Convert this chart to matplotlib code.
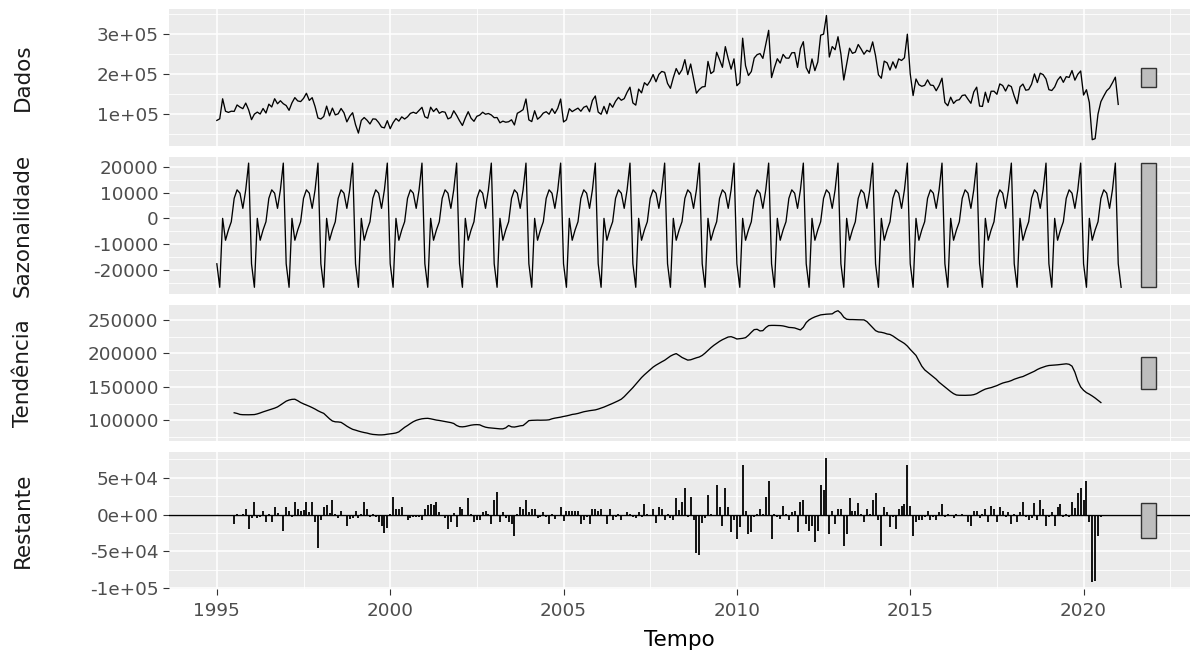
import numpy as np
import matplotlib.pyplot as plt

# monthly series, Jan 1995 to Feb 2021 (values in thousands)
inicio = 1995
n_meses = 314

sazonal = [-17.65, -26.8, 0.0, -8.5, -4.5, -1.3, 7.8, 11.1, 9.8, 3.9, 11.1, 21.5]

# trend and remainder exist from Jul 1995 to Jul 2020
tendencia = [
    111.5, 110.5, 109.0, 108.6, 108.5, 108.5,
    108.6, 108.8, 109.8, 111.2, 112.8, 114.2, 115.6, 117.0, 118.4, 120.2, 123.0, 126.0,
    128.8, 130.5, 131.5, 131.7, 129.5, 126.8, 124.8, 123.0, 121.2, 119.2, 117.0, 114.5,
    112.4, 110.6, 106.5, 102.5, 99.2, 98.0, 97.8, 97.2, 94.5, 91.5, 89.0, 86.8,
    85.6, 84.2, 83.0, 82.0, 81.2, 80.0, 79.2, 78.8, 78.5, 78.5, 78.8, 79.5,
    80.0, 80.6, 81.4, 83.0, 86.5, 89.8, 92.5, 95.5, 98.2, 100.2, 101.5, 102.5,
    103.0, 103.2, 102.5, 101.5, 100.6, 100.0, 99.2, 98.4, 97.5, 96.8, 95.5, 92.5,
    90.8, 90.5, 91.0, 92.0, 93.0, 93.6, 93.8, 93.5, 91.5, 90.0, 89.2, 88.8,
    88.5, 88.0, 87.5, 87.5, 89.0, 92.5, 90.5, 90.2, 91.0, 92.0, 92.5, 96.0,
    99.8, 100.2, 100.4, 100.5, 100.4, 100.5, 100.6, 101.0, 102.5, 103.5, 104.2, 105.0,
    106.0, 106.8, 107.8, 109.0, 109.6, 110.5, 111.8, 113.0, 113.8, 114.6, 115.2, 115.8,
    117.0, 118.5, 120.0, 121.8, 123.5, 125.5, 127.5, 129.5, 131.8, 135.5, 140.0, 144.5,
    149.0, 154.0, 159.0, 164.0, 168.2, 172.0, 176.0, 179.6, 182.5, 185.0, 187.5, 189.8,
    193.0, 196.0, 198.2, 199.7, 197.0, 194.0, 192.0, 190.0, 190.5, 192.0, 193.5, 194.7,
    197.0, 200.5, 204.5, 208.5, 212.0, 215.0, 218.0, 220.5, 222.5, 224.5, 225.0, 223.5,
    221.5, 222.0, 222.5, 223.5, 227.0, 231.5, 235.5, 236.0, 233.5, 234.0, 238.5, 241.5,
    241.8, 241.8, 241.6, 241.5, 241.0, 240.0, 238.8, 238.5, 238.0, 236.5, 235.0, 239.0,
    246.0, 250.0, 252.5, 254.5, 256.0, 257.5, 258.0, 258.5, 258.8, 259.0, 262.0, 263.7,
    260.0, 254.0, 251.0, 250.5, 250.5, 250.3, 250.2, 250.1, 250.0, 247.5, 243.0, 238.5,
    234.0, 232.0, 231.5, 230.5, 229.0, 228.3, 226.0, 223.0, 220.0, 217.5, 214.8, 211.0,
    206.0, 201.5, 197.0, 189.0, 181.0, 175.5, 172.0, 168.5, 165.0, 161.5, 157.0, 153.5,
    150.0, 146.5, 143.0, 140.0, 138.0, 137.6, 137.5, 137.5, 137.6, 137.8, 138.5, 140.0,
    142.5, 144.8, 146.8, 148.0, 149.0, 150.5, 152.0, 154.0, 155.8, 157.0, 158.0, 159.5,
    161.5, 163.0, 164.4, 165.5, 167.5, 169.5, 171.5, 173.5, 176.0, 178.0, 179.5, 181.0,
    182.0, 182.3, 182.5, 183.0, 183.5, 184.0, 184.5, 183.8, 181.0, 172.0, 159.0, 150.0,
    145.0, 141.5, 139.2, 136.5, 133.5, 130.0, 126.7,
]

restante = [
    -12.7, 1.0, -1.5, 0.8, 7.7, -19.5,
    -5.0, 17.7, -5.0, -2.7, 5.5, -10.5, 1.2, -10.5, 10.0, 1.5, -1.0, -21.8,
    10.0, 5.5, -3.6, 17.7, 7.7, 5.5, 6.4, 17.7, 3.0, 17.7, -9.5, -45.9,
    -7.3, 10.0, 13.2, 1.5, 20.0, 1.0, -5.0, 5.5, -1.2, -15.0, -5.9, -5.0,
    5.5, -5.0, 1.0, 17.7, 7.7, -3.6, 0.8, -2.7, -9.5, -15.0, -24.5, -17.7,
    1.0, 24.5, 7.3, 7.7, 10.9, -1.0, -7.3, -5.0, -3.6, -2.7, -3.6, -7.3,
    7.7, 13.2, 14.5, 13.2, 17.7, 3.2, -1.0, -5.0, -19.5, -9.5, 1.5, -17.3,
    10.0, 7.7, -1.0, 22.3, 1.0, -10.5, -7.3, -7.3, 3.2, 5.5, 1.0, -12.7,
    20.0, 30.0, -9.5, 3.2, -5.0, -10.5, -12.7, -28.6, 1.0, 10.0, 7.3, 20.0,
    3.2, 7.7, 7.7, -5.0, -2.7, 3.2, -2.7, -12.7, 1.0, -5.9, -1.0, 10.9,
    -8.2, 5.5, 5.5, 5.5, 5.5, 5.5, -12.7, -7.3, -3.6, -12.7, 7.7, 7.7,
    5.5, 7.7, -1.0, -12.7, 7.7, -7.3, -3.6, 1.0, -7.3, -1.0, 3.2, 1.0,
    -3.6, -5.0, 3.2, -2.7, 14.5, 1.0, -1.0, 7.7, -11.8, 10.0, 7.7, -7.3,
    1.0, -5.0, -7.3, 22.3, 6.4, 17.7, 35.9, -2.7, 24.5, -7.3, -52.7, -55.0,
    -11.8, -5.0, 26.8, 1.0, -1.0, 40.5, 10.0, -15.0, 35.9, 10.0, -24.1, -7.3,
    -33.2, -17.3, 66.8, 5.5, -26.4, -24.1, -3.6, 1.0, 7.7, 1.0, 24.5, 45.9,
    -33.2, 1.0, -3.6, -5.9, 12.3, 1.0, -7.3, 3.2, 5.5, -24.1, 17.7, 20.0,
    -12.7, -21.8, -15.0, -37.7, -21.8, 40.5, 33.6, 76.3, -26.4, 5.5, -12.7, 7.7,
    7.7, -42.3, -26.4, 22.3, 5.5, 5.5, 15.5, 1.0, -10.5, 7.7, 1.0, 20.0,
    29.1, -7.3, -42.3, 10.0, 3.2, -17.3, -3.6, -19.5, 7.7, 12.3, 14.5, 66.8,
    12.3, -28.6, -9.5, -7.3, -7.3, -2.7, 5.5, -7.3, -3.6, -7.3, 3.2, 14.5,
    -3.6, 1.0, -1.0, -5.0, 0.5, -0.5, 1.0, -1.0, -10.5, -15.0, 5.5, 5.5,
    -5.0, 1.0, 7.7, -10.5, 12.3, 7.7, -10.5, 10.0, 5.5, -3.6, 3.2, -12.7,
    1.0, -10.5, 3.2, 17.7, -3.6, -7.3, -5.0, 15.5, -7.3, 20.0, 7.7, -15.0,
    -3.6, 3.2, -15.0, 10.0, 14.5, -3.6, 1.0, -3.6, 17.7, 8.6, 29.1, 35.9,
    20.0, 45.9, -10.5, -92.1, -90.5, -28.6, -3.6,
]

# observed values outside the moving-average window (Feb 2021 is missing)
dados_inicio = [84.0, 88.0, 138.0, 107.0, 104.0, 107.0]
dados_fim = [145.0, 158.0, 165.0, 178.0, 192.0, 124.0]

paineis = ["Dados", "Sazonalidade", "Tendência", "Restante"]
ticks_y = [
    [1e5, 2e5, 3e5],
    [-20000, -10000, 0, 10000, 20000],
    [100000, 150000, 200000, 250000],
    [-1e5, -5e4, 0, 5e4],
]
labels_y = [
    ["1e+05", "2e+05", "3e+05"],
    ["-20000", "-10000", "0", "10000", "20000"],
    ["100000", "150000", "200000", "250000"],
    ["-1e+05", "-5e+04", "0e+00", "5e+04"],
]
ticks_x = [1995, 2000, 2005, 2010, 2015, 2020]

# assemble the components on the monthly time axis
t = inicio + np.arange(n_meses) / 12
saz = np.resize(np.array(sazonal) * 1000, n_meses)
tend = np.full(n_meses, np.nan)
rest = np.full(n_meses, np.nan)
fim = 6 + len(tendencia)
tend[6:fim] = np.array(tendencia) * 1000
rest[6:fim] = np.array(restante) * 1000
dados = tend + saz + rest
dados[:6] = np.array(dados_inicio) * 1000
dados[fim:fim + len(dados_fim)] = np.array(dados_fim) * 1000

series = [dados, saz, tend, rest]

W, H = 1190, 657
fig = plt.figure(figsize=(W / 100, H / 100), dpi=100)

x_min, x_max = 1993.62, 2023.07
topo, alt, gap = 9.3, 136.6, 11.0
left, right = 169, 1190

# every range bar has the height of the smallest range (the seasonal one)
faixas = [np.nanmax(s) - np.nanmin(s) for s in series]
barra_h = min(faixas)
barra_x = t[-1] + 0.8

for k, (nome, y) in enumerate(zip(paineis, series)):
    y_top = topo + k * (alt + gap)
    ax = fig.add_axes([left / W, 1 - (y_top + alt) / H, (right - left) / W, alt / H])
    ax.set_facecolor("#EBEBEB")
    for s in ax.spines.values():
        s.set_visible(False)

    if nome == "Restante":
        ok = ~np.isnan(y)
        ax.axhline(0, color="black", lw=1.0, zorder=3)
        ax.vlines(t[ok], 0, y[ok], color="black", lw=1.3, zorder=3)
    else:
        ax.plot(t, y, color="black", lw=0.95, zorder=3)

    lo, hi = np.nanmin(y), np.nanmax(y)
    pad = (hi - lo) * 0.05
    centro = (lo + hi) / 2
    ax.bar(barra_x, barra_h, width=0.43, bottom=centro - barra_h / 2,
           color="#BEBEBE", edgecolor="#333333", linewidth=1.0, zorder=4)

    ax.set_xlim(x_min, x_max)
    ax.set_xticks(ticks_x)
    ax.set_xticks([1997.5, 2002.5, 2007.5, 2012.5, 2017.5, 2022.5], minor=True)
    ax.set_yticks(ticks_y[k])
    ax.set_yticklabels(labels_y[k])
    passo = ticks_y[k][1] - ticks_y[k][0]
    menores = np.arange(ticks_y[k][0] - passo * 1.5, ticks_y[k][-1] + passo, passo)
    ax.set_yticks(menores, minor=True)
    ax.set_ylim(lo - pad, hi + pad)

    ax.grid(which="major", color="white", lw=1.1, zorder=0)
    ax.grid(which="minor", color="white", lw=0.6, zorder=0)
    ax.set_axisbelow(True)
    ax.tick_params(which="minor", length=0)
    ax.tick_params(axis="y", which="major", length=4.5, width=0.8, color="#333333",
                   labelsize=13.2, labelcolor="#4D4D4D", pad=3)
    ax.tick_params(axis="x", which="major", length=4.5, width=0.8, color="#333333",
                   labelsize=13.2, labelcolor="#4D4D4D", pad=5)
    if k < 3:
        ax.tick_params(axis="x", which="major", length=0, labelbottom=False)

    fig.text(23 / W, 1 - (y_top + alt / 2) / H, nome, rotation=90,
             ha="center", va="center", fontsize=15.5, color="#1A1A1A")

fig.text((left + right) / 2 / W, 1 - 640 / H, "Tempo", ha="center", va="center",
         fontsize=15.5, color="black")

fig.savefig("out.png", dpi=100)
